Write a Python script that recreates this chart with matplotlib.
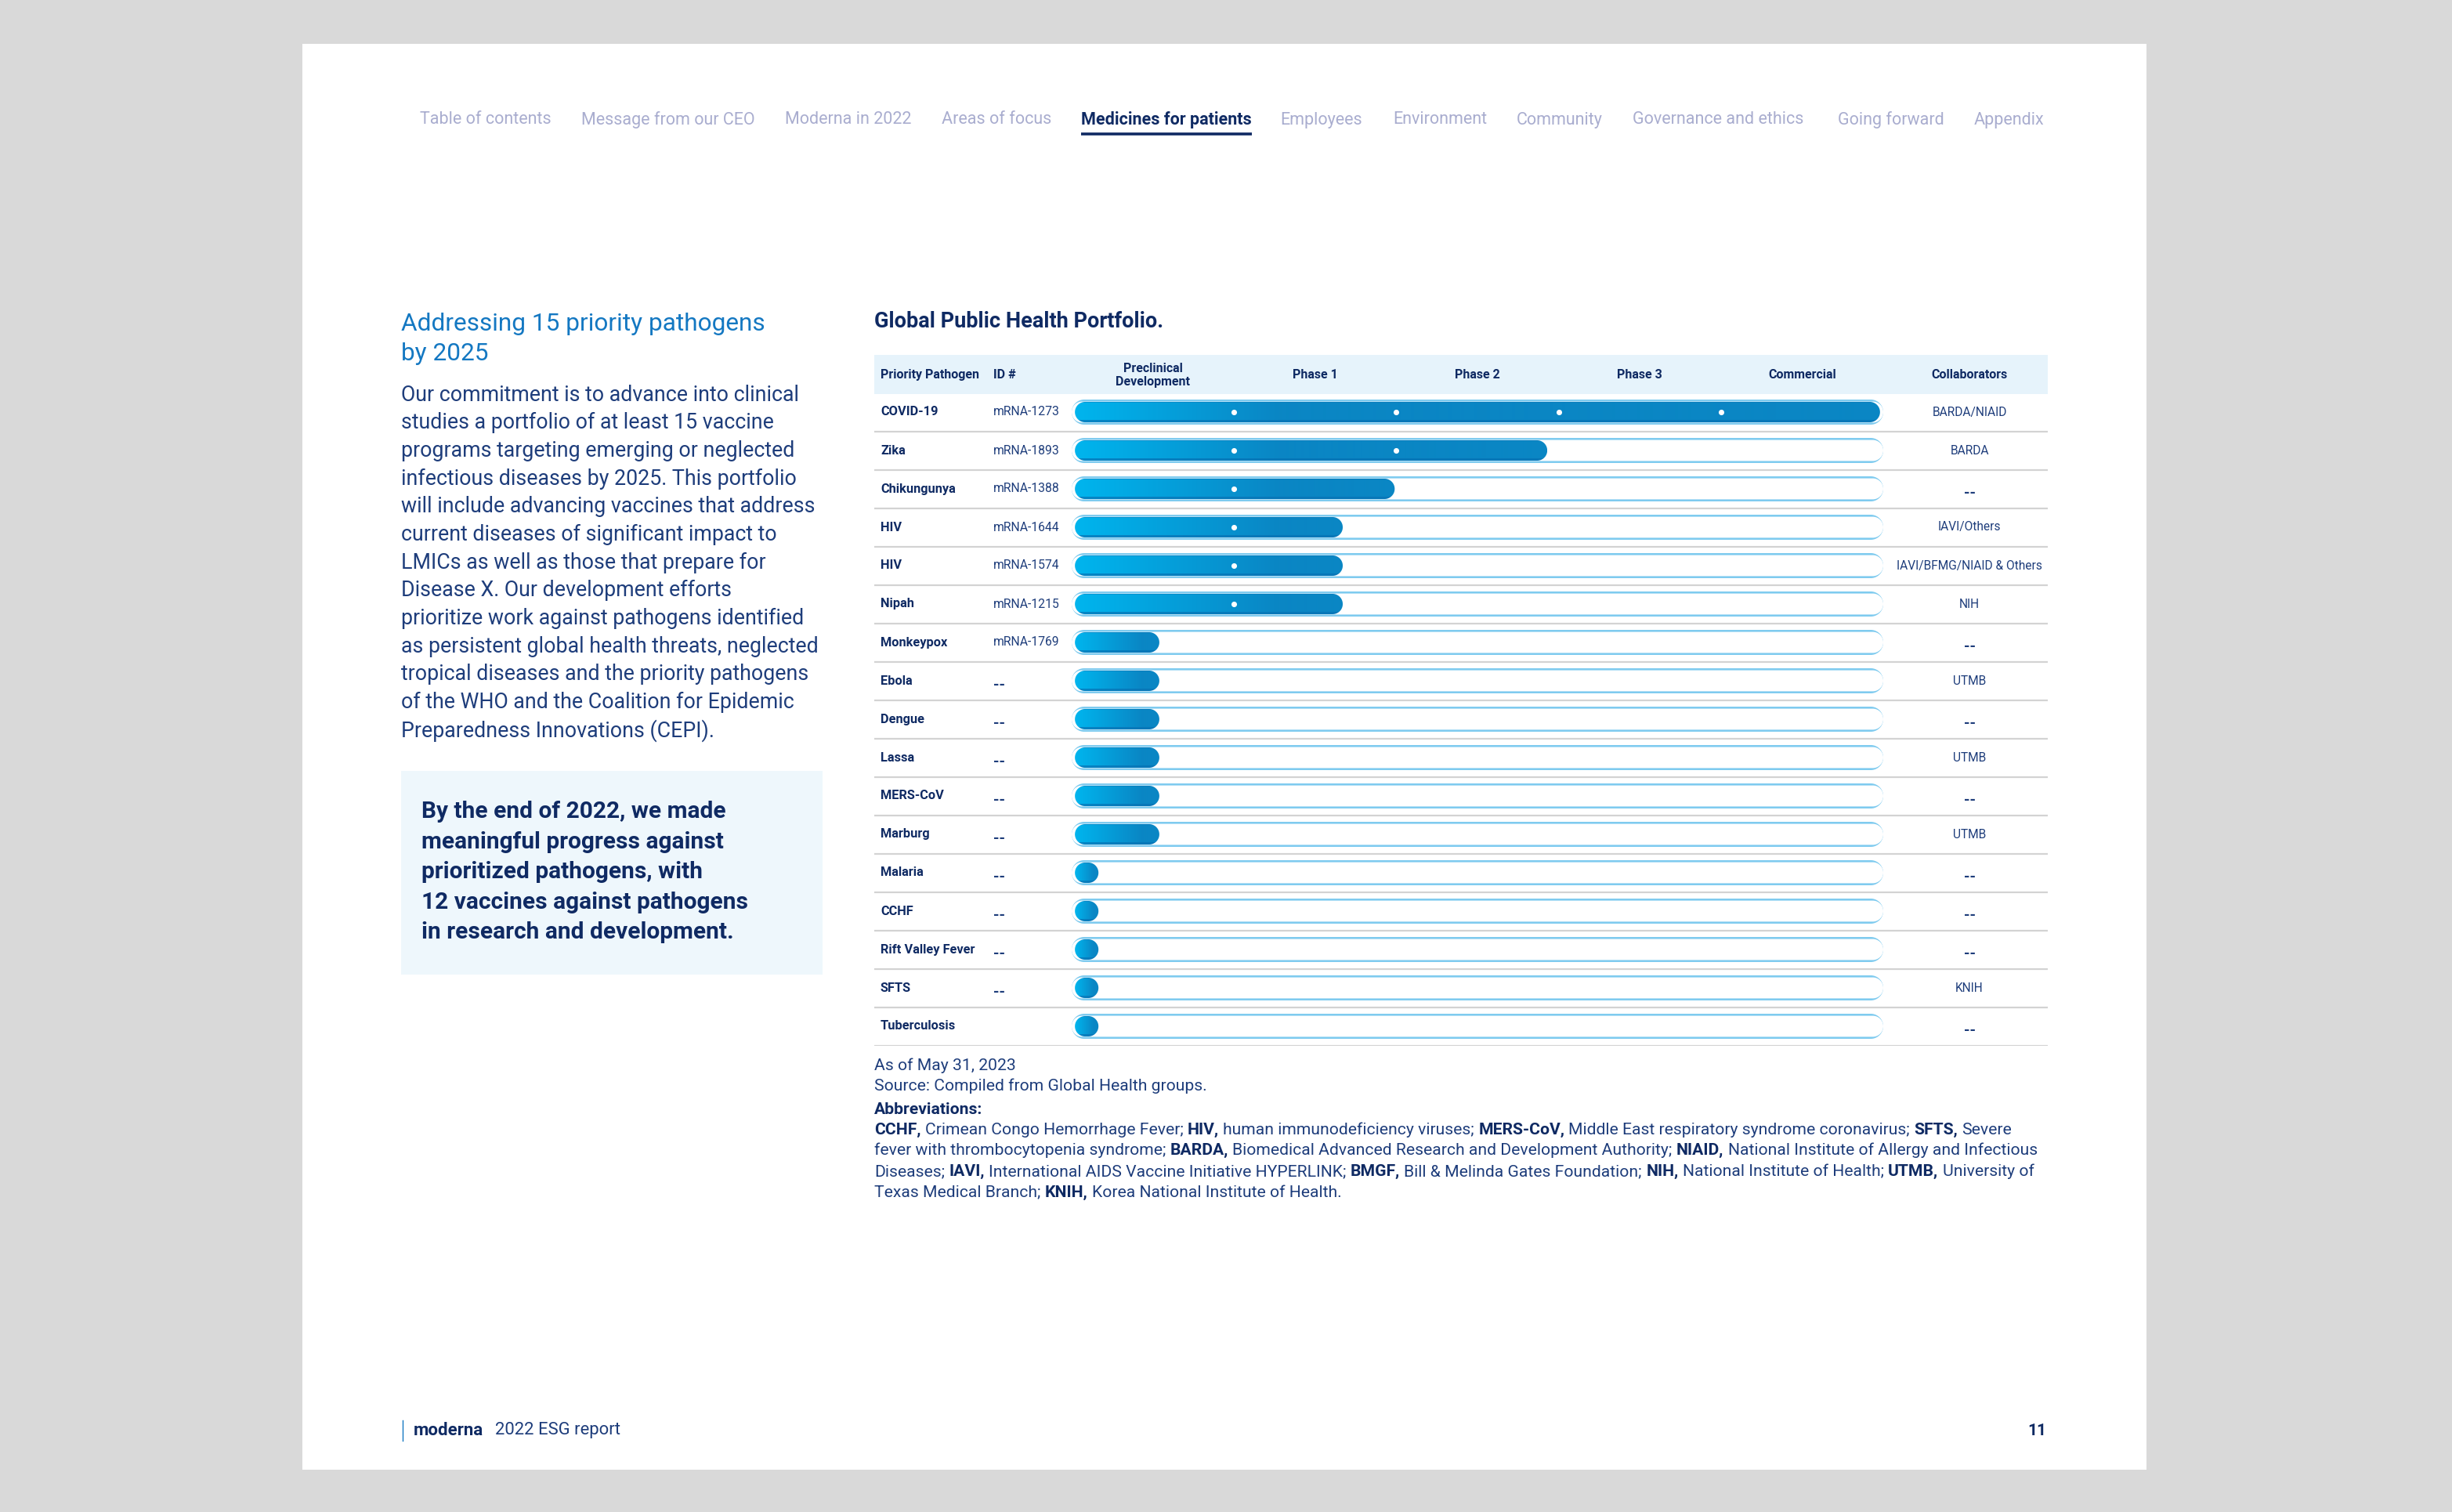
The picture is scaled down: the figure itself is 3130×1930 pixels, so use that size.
import numpy as np
import matplotlib.pyplot as plt
from matplotlib.patches import Rectangle, PathPatch
from matplotlib.path import Path
from matplotlib.colors import to_rgb

plt.rcParams['font.family'] = ['Roboto', 'DejaVu Sans']

# ---- data ----
pathogens = ['COVID-19', 'Zika', 'Chikungunya', 'HIV', 'HIV', 'Nipah', 'Monkeypox', 'Ebola',
             'Dengue', 'Lassa', 'MERS-CoV', 'Marburg', 'Malaria', 'CCHF', 'Rift Valley Fever',
             'SFTS', 'Tuberculosis']
ids = ['mRNA-1273', 'mRNA-1893', 'mRNA-1388', 'mRNA-1644', 'mRNA-1574', 'mRNA-1215', 'mRNA-1769',
       '--', '--', '--', '--', '--', '--', '--', '--', '--', '']
collaborators = ['BARDA/NIAID', 'BARDA', '--', 'IAVI/Others', 'IAVI/BFMG/NIAID & Others', 'NIH', '--',
                 'UTMB', '--', 'UTMB', '--', 'UTMB', '--', '--', '--', 'KNIH', '--']
# progress along the pipeline, in phase units (0 = start, 5 = commercial)
progress = [5.0, 2.93, 1.99, 1.67, 1.67, 1.67, 0.54, 0.54, 0.54, 0.54, 0.54, 0.54,
            0.165, 0.165, 0.165, 0.165, 0.165]
stages = ['Preclinical\nDevelopment', 'Phase 1', 'Phase 2', 'Phase 3', 'Commercial']

nav_items = ['Table of contents', 'Message from our CEO', 'Moderna in 2022', 'Areas of focus',
             'Medicines for patients', 'Employees', 'Environment', 'Community',
             'Governance and ethics', 'Going forward', 'Appendix']
nav_x = [536, 742, 1002, 1202, 1380, 1634, 1778, 1936, 2084, 2346, 2520]
active_nav = 'Medicines for patients'

heading = ['Addressing 15 priority pathogens', 'by 2025']
body = ['Our commitment is to advance into clinical',
        'studies a portfolio of at least 15 vaccine',
        'programs targeting emerging or neglected',
        'infectious diseases by 2025. This portfolio',
        'will include advancing vaccines that address',
        'current diseases of significant impact to',
        'LMICs as well as those that prepare for',
        'Disease X. Our development efforts',
        'prioritize work against pathogens identified',
        'as persistent global health threats, neglected',
        'tropical diseases and the priority pathogens',
        'of the WHO and the Coalition for Epidemic',
        'Preparedness Innovations (CEPI).']
callout = ['By the end of 2022, we made',
           'meaningful progress against',
           'prioritized pathogens, with',
           '12 vaccines against pathogens',
           'in research and development.']
abbrev = [
    [('CCHF,', True), ('Crimean Congo Hemorrhage Fever;', False), ('HIV,', True),
     ('human immunodeficiency viruses;', False), ('MERS-CoV,', True),
     ('Middle East respiratory syndrome coronavirus;', False), ('SFTS,', True), ('Severe', False)],
    [('fever with thrombocytopenia syndrome;', False), ('BARDA,', True),
     ('Biomedical Advanced Research and Development Authority;', False), ('NIAID,', True),
     ('National Institute of Allergy and Infectious', False)],
    [('Diseases;', False), ('IAVI,', True), ('International AIDS Vaccine Initiative HYPERLINK;', False),
     ('BMGF,', True), ('Bill & Melinda Gates Foundation;', False), ('NIH,', True),
     ('National Institute of Health;', False), ('UTMB,', True), ('University of', False)],
    [('Texas Medical Branch;', False), ('KNIH,', True), ('Korea National Institute of Health.', False)],
]

# ---- colours ----
NAVY = '#0f2a63'
TEXT = '#1e3d7b'
BLUE = '#1478c2'
NAV_GRAY = '#a9adcf'
RING = '#7fcbef'
FILL_L = '#00b5ee'
FILL_R = '#0a86c4'
FILL_EDGE = '#0871b3'
SEP = '#d3d3d3'
HEAD_BG = '#e6f3fb'

W, H = 3130, 1930
fig = plt.figure(figsize=(W / 100, H / 100), dpi=100)
fig.patch.set_facecolor('#d9d9d9')

bg = fig.add_axes([0, 0, 1, 1])
bg.set_xlim(0, W)
bg.set_ylim(H, 0)
bg.axis('off')
bg.add_patch(Rectangle((386, 56), 2354, 1820, facecolor='white', edgecolor='none'))

# nav bar
for label, x in zip(nav_items, nav_x):
    active = label == active_nav
    bg.text(x, 153, label, fontsize=15.5, color=NAVY if active else NAV_GRAY,
            fontweight='bold' if active else 'normal', va='center')
    if active:
        bg.plot([1380, 1598], [171, 171], color=NAVY, lw=2.6, solid_capstyle='butt')

# left column
for i, line in enumerate(heading):
    bg.text(512, 413 + 38 * i, line, fontsize=22.8, color=BLUE, va='center')
for i, line in enumerate(body):
    bg.text(512, 504 + 35.7 * i, line, fontsize=19.3, color=TEXT, va='center')
bg.add_patch(Rectangle((512, 984), 538, 260, facecolor='#eef7fc', edgecolor='none'))
for i, line in enumerate(callout):
    bg.text(538, 1036 + 38.6 * i, line, fontsize=21.5, color=NAVY, va='center', fontweight='bold')

# chart title and notes
NOTE = 15.25
bg.text(1116, 411, 'Global Public Health Portfolio.', fontsize=19.5, color=NAVY, va='center',
        fontweight='bold')
bg.text(1116, 1360, 'As of May 31, 2023', fontsize=NOTE, color=TEXT, va='center')
bg.text(1116, 1386, 'Source: Compiled from Global Health groups.', fontsize=NOTE, color=TEXT,
        va='center')
bg.text(1116, 1416, 'Abbreviations:', fontsize=NOTE, color=NAVY, va='center', fontweight='bold')

renderer = fig.canvas.get_renderer()


def text_width(s, weight):
    t = bg.text(0, 0, s, fontsize=NOTE, fontweight=weight)
    w = t.get_window_extent(renderer).width
    t.remove()
    return w


space_w = text_width('x x', 'normal') - text_width('xx', 'normal')
for i, runs in enumerate(abbrev):
    x = 1116
    y = 1442 + 26.7 * i
    for s, bold in runs:
        weight = 'bold' if bold else 'normal'
        t = bg.text(x, y, s, fontsize=NOTE, color=NAVY if bold else TEXT, va='center',
                    fontweight=weight)
        x += t.get_window_extent(renderer).width + space_w

# footer
bg.plot([514, 514], [1813, 1839], color=BLUE, lw=1)
bg.text(528, 1826, 'moderna', fontsize=16, color=NAVY, va='center', fontweight='bold')
bg.text(632, 1826, '2022 ESG report', fontsize=15.8, color=TEXT, va='center')
bg.text(2612, 1826, '11', fontsize=15, color=NAVY, va='center', ha='right', fontweight='bold')

# ---- table axes ----
x_px0, unit_px = 1368, 207.2      # pixel of phase 0 and pixels per phase
row0_px, row_px = 526, 49
left_px, right_px = 1116, 2614
n = len(pathogens)
top_px = row0_px - 1.5 * row_px
bot_px = row0_px + (n - 0.5) * row_px
ax = fig.add_axes([left_px / W, 1 - bot_px / H, (right_px - left_px) / W, (bot_px - top_px) / H])
xmin = (left_px - x_px0) / unit_px
xmax = (right_px - x_px0) / unit_px
ax.axis('off')


def pill(xa, xb, yc, h_px):
    r = h_px / 2
    rx, ry = r / unit_px, r / row_px
    if xb - xa < 2 * rx:
        xm = (xa + xb) / 2
        xa, xb = xm - rx, xm + rx
    th_l = np.linspace(np.pi / 2, 3 * np.pi / 2, 40)
    th_r = np.linspace(-np.pi / 2, np.pi / 2, 40)
    xs = np.concatenate([xa + rx + rx * np.cos(th_l), xb - rx + rx * np.cos(th_r)])
    ys = np.concatenate([yc + ry * np.sin(th_l), yc + ry * np.sin(th_r)])
    verts = np.column_stack([xs, ys])
    verts = np.vstack([verts, verts[:1]])
    return Path(verts, closed=True)


# header band
HEAD = 11.5
ax.add_patch(Rectangle((xmin, -1.5), xmax - xmin, 1.03, facecolor=HEAD_BG, edgecolor='none'))
hy = -0.96
ax.text(-1.178, hy, 'Priority Pathogen', fontsize=HEAD, color=NAVY, fontweight='bold', va='center')
ax.text(-0.483, hy, 'ID #', fontsize=HEAD, color=NAVY, fontweight='bold', va='center')
for k, st in enumerate(stages):
    ax.text(k + 0.5, hy, st, fontsize=HEAD, color=NAVY, fontweight='bold', va='center',
            ha='center', linespacing=1.1)
ax.text(5.531, hy, 'Collaborators', fontsize=HEAD, color=NAVY, fontweight='bold', va='center',
        ha='center')

# separators
ax.hlines(np.arange(n) + 0.5, xmin, xmax, color=SEP, lw=1.6, zorder=1)

inset = 0.02
cl, cr, ce = np.array(to_rgb(FILL_L)), np.array(to_rgb(FILL_R)), np.array(to_rgb(FILL_EDGE))
for i, (name, pid, col, p) in enumerate(zip(pathogens, ids, collaborators, progress)):
    ax.text(-1.178, i, name, fontsize=11.8, color=NAVY, fontweight='bold', va='center')
    if pid == '--':
        ax.text(-0.483, i + 0.13, pid, fontsize=14, color=TEXT, va='center', fontweight='bold')
    else:
        ax.text(-0.483, i, pid, fontsize=11.3, color=TEXT, va='center')
    if col == '--':
        ax.text(5.531, i + 0.13, col, fontsize=14, color=TEXT, va='center', ha='center',
                fontweight='bold')
    else:
        ax.text(5.531, i, col, fontsize=11.2, color=TEXT, va='center', ha='center')

    # empty track
    ax.add_patch(PathPatch(pill(0, 5, i, 32), facecolor=RING, edgecolor='none', zorder=2))
    ax.add_patch(PathPatch(pill(0, 5, i, 26.8), facecolor='white', edgecolor='none', zorder=3))

    # gradient fill
    x0, x1 = inset, min(p, 5 - inset)
    h = 26
    clip = PathPatch(pill(x0, x1, i, h), facecolor='none', edgecolor='none', zorder=4)
    ax.add_patch(clip)
    len_px = (x1 - x0) * unit_px
    nx = max(int(len_px), 2)
    d = np.linspace(0, len_px, nx)
    t = np.clip(d / min(260, 0.8 * len_px), 0, 1)[None, :, None]
    row = cl * (1 - t) + cr * t
    ny = 26
    img = np.repeat(row, ny, axis=0)
    img[-3:] = img[-3:] * 0.3 + ce * 0.7
    img[:1] = img[:1] * 0.6 + ce * 0.4
    hh = h / 2 / row_px
    im = ax.imshow(img, extent=(x0, x1, i + hh, i - hh), origin='upper', aspect='auto',
                   interpolation='bilinear', zorder=4)
    im.set_clip_path(clip)

    # phase milestone dots
    dots = [k for k in range(1, 5) if k < p - 0.1]
    if dots:
        ax.scatter(dots, [i] * len(dots), s=26, color='white', zorder=5, linewidths=0)

ax.set_xlim(xmin, xmax)
ax.set_ylim(n - 0.5, -1.5)

fig.savefig('out.png', dpi=100, facecolor=fig.get_facecolor())
